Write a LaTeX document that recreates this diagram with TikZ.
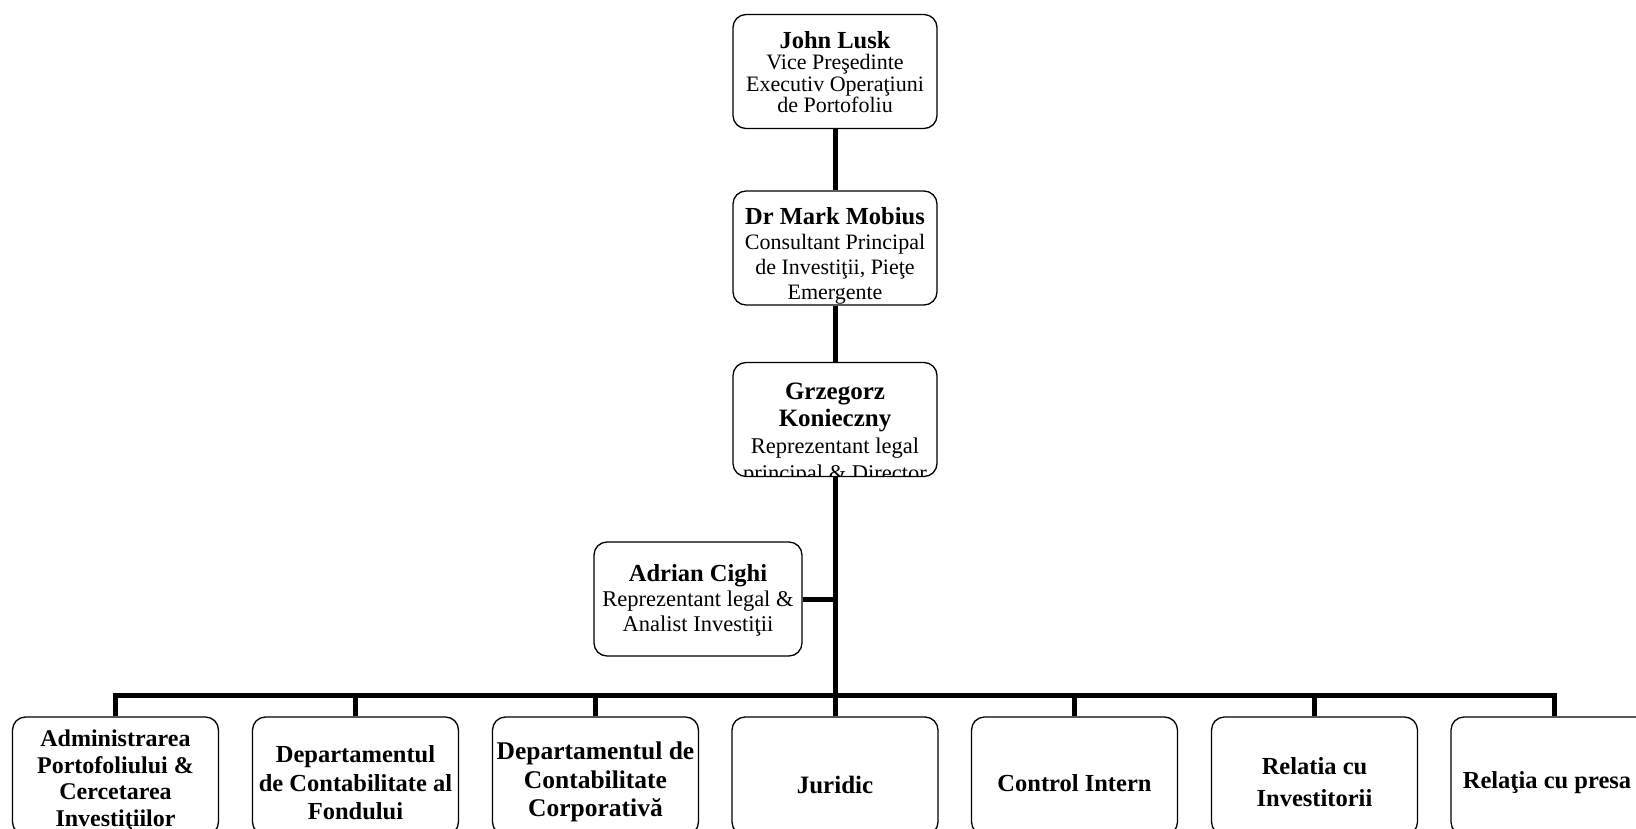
\documentclass[tikz,border=0pt]{standalone}
\usepackage{fontspec}
\setmainfont{Liberation Serif}
\begin{document}
\begin{tikzpicture}[x=1pt,y=-1pt,
  box/.style={draw, line width=1.3pt, rounded corners=13pt, minimum width=204pt, inner sep=0pt},
  topbox/.style={box, minimum height=114pt},
  botbox/.style={box, minimum width=206pt, minimum height=118pt},
  conn/.style={line width=5pt, line join=miter},
  txt/.style={align=center, inner sep=0pt},
  small/.style={txt, font=\fontsize{22}{21.5}\selectfont},
  mid/.style={txt, font=\fontsize{22.5}{27}\selectfont},
  big/.style={txt, font=\fontsize{24.5}{28}\selectfont\bfseries}]
\useasboundingbox (0,0) rectangle (1636,829);
\clip (0,0) rectangle (1636,829);
% top chain
\node[topbox] (lusk) at (835,71.5) {};
\node[small] (luskt) at (835,72) {{\fontsize{24.5}{21.5}\selectfont\bfseries John Lusk}\\Vice Preşedinte\\Executiv Operaţiuni\\de Portofoliu};
\node[topbox] (mobius) at (835,248) {};
\node[small, font=\fontsize{22}{25}\selectfont] (mobiust) at (835,255.5) {{\fontsize{24.5}{25}\selectfont\bfseries Dr Mark Mobius}\\Consultant Principal\\de Investiţii, Pieţe\\Emergente};
\node[topbox] (grz) at (835,419.5) {};
\begin{scope}
\clip (733,362) rectangle (937,476);
\node[mid] (grzt) at (835,434) {{\fontsize{25}{27}\selectfont\bfseries Grzegorz}\\{\fontsize{25}{27}\selectfont\bfseries Konieczny}\\Reprezentant legal\\principal \& Director};
\end{scope}
\node[topbox, minimum width=208pt] (adrian) at (698,599) {};
\node[mid, font=\fontsize{22.5}{25}\selectfont] (adriant) at (698,600) {{\fontsize{24.5}{25}\selectfont\bfseries Adrian Cighi}\\Reprezentant legal \&\\Analist Investiţii};
% bottom row
\node[botbox] (b1) at (115.5,776) {};
\node[big, font=\fontsize{24}{26.5}\selectfont\bfseries] (b1t) at (115.5,780.5) {Administrarea\\Portofoliului \&\\Cercetarea\\Investiţiilor};
\node[botbox] (b2) at (355.5,776) {};
\node[big, font=\fontsize{24.5}{28.5}\selectfont\bfseries] (b2t) at (355.5,783) {Departamentul\\de Contabilitate al\\Fondului};
\node[botbox] (b3) at (595.5,776) {};
\node[big, font=\fontsize{25.5}{28.5}\selectfont\bfseries] (b3t) at (595.5,782) {Departamentul de\\Contabilitate\\Corporativă};
\node[botbox] (b4) at (835,776) {};
\node[big, font=\fontsize{25}{28}\selectfont\bfseries] (b4t) at (835,785) {Juridic};
\node[botbox] (b5) at (1074.5,776) {};
\node[big] (b5t) at (1074.5,783) {Control Intern};
\node[botbox] (b6) at (1314.5,776) {};
\node[big, font=\fontsize{24.5}{32}\selectfont\bfseries] (b6t) at (1314.5,782) {Relatia cu\\Investitorii};
\node[botbox] (b7) at (1554,776) {};
\node[big] (b7t) at (1547,783) {Relaţia cu presa};
% connectors
\coordinate (bar) at (835,695);
\draw[conn] (lusk.south) -- (mobius.north);
\draw[conn] (mobius.south) -- (grz.north);
\draw[conn] (grz.south) -- (bar);
\draw[conn] (adrian.east) -- (adrian.east -| grz.south);
\draw[conn] (b1.north) |- (bar) -| (b7.north);
\draw[conn] (b2.north) -- (b2.north |- bar);
\draw[conn] (b3.north) -- (b3.north |- bar);
\draw[conn] (b4.north) -- (bar);
\draw[conn] (b5.north) -- (b5.north |- bar);
\draw[conn] (b6.north) -- (b6.north |- bar);
\end{tikzpicture}
\end{document}
